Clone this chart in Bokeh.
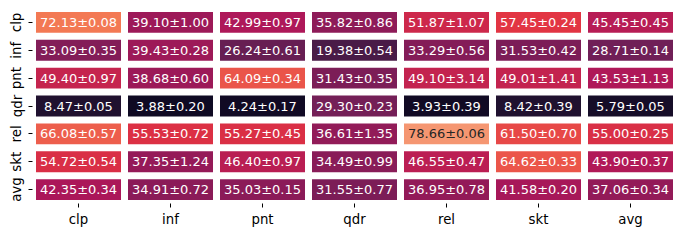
import numpy as np
from bokeh.plotting import figure
from bokeh.models import ColumnDataSource, LinearColorMapper, FixedTicker, Range1d
from bokeh.transform import transform
from bokeh.core.properties import value
from bokeh.embed import file_html
from bokeh.resources import INLINE

rows = ["clp", "inf", "pnt", "qdr", "rel", "skt", "avg"]
cols = ["clp", "inf", "pnt", "qdr", "rel", "skt", "avg"]

mean_clp = [72.13, 39.10, 42.99, 35.82, 51.87, 57.45, 45.45]
mean_inf = [33.09, 39.43, 26.24, 19.38, 33.29, 31.53, 28.71]
mean_pnt = [49.40, 38.68, 64.09, 31.43, 49.10, 49.01, 43.53]
mean_qdr = [8.47, 3.88, 4.24, 29.30, 3.93, 8.42, 5.79]
mean_rel = [66.08, 55.53, 55.27, 36.61, 78.66, 61.50, 55.00]
mean_skt = [54.72, 37.35, 46.40, 34.49, 46.55, 64.62, 43.90]
mean_avg = [42.35, 34.91, 35.03, 31.55, 36.95, 41.58, 37.06]

std_clp = [0.08, 1.00, 0.97, 0.86, 1.07, 0.24, 0.45]
std_inf = [0.35, 0.28, 0.61, 0.54, 0.56, 0.42, 0.14]
std_pnt = [0.97, 0.60, 0.34, 0.35, 3.14, 1.41, 1.13]
std_qdr = [0.05, 0.20, 0.17, 0.23, 0.39, 0.39, 0.05]
std_rel = [0.57, 0.72, 0.45, 1.35, 0.06, 0.70, 0.25]
std_skt = [0.54, 1.24, 0.97, 0.99, 0.47, 0.33, 0.37]
std_avg = [0.34, 0.72, 0.15, 0.77, 0.78, 0.20, 0.34]

means = [mean_clp, mean_inf, mean_pnt, mean_qdr, mean_rel, mean_skt, mean_avg]
stds = [std_clp, std_inf, std_pnt, std_qdr, std_rel, std_skt, std_avg]

# approximate "rocket" colormap
anchors = ["#03051a", "#35193e", "#701f57", "#ad1759", "#e13342",
           "#f37651", "#f6b48f", "#faebdd"]
def h2rgb(h):
    h = h.lstrip("#")
    return np.array([int(h[i:i + 2], 16) for i in (0, 2, 4)], dtype=float)
anc = np.array([h2rgb(a) for a in anchors])
apos = np.linspace(0, 1, len(anchors))
grid = np.linspace(0, 1, 256)
lut = np.stack([np.interp(grid, apos, anc[:, k]) for k in range(3)], axis=1)
palette = ["#%02x%02x%02x" % tuple(int(round(c)) for c in rgb) for rgb in lut]
VMIN, VMAX = 0.0, 100.0

def lum(rgb):
    c = rgb / 255.0
    c = np.where(c <= 0.03928, c / 12.92, ((c + 0.055) / 1.055) ** 2.4)
    return 0.2126 * c[0] + 0.7152 * c[1] + 0.0722 * c[2]

xs, ys, vals, labels, tcolors = [], [], [], [], []
for i, r in enumerate(rows):
    for j, c in enumerate(cols):
        v = means[i][j]
        xs.append(j)
        ys.append(i)
        vals.append(v)
        labels.append("%.2f\u00b1%.2f" % (v, stds[i][j]))
        idx = int(np.clip((v - VMIN) / (VMAX - VMIN) * 255, 0, 255))
        tcolors.append("#262626" if lum(lut[idx]) > 0.408 else "#ffffff")

src = ColumnDataSource(dict(x=xs, y=ys, v=vals, label=labels, tc=tcolors))
mapper = LinearColorMapper(palette=palette, low=VMIN, high=VMAX)

p = figure(width=684, height=234, output_backend="svg", toolbar_location=None,
           x_range=Range1d(-0.5, 6.5), y_range=Range1d(6.5, -0.5),
           min_border_left=32, min_border_right=8, min_border_top=8,
           min_border_bottom=31)
p.rect(x="x", y="y", width=1 - 7 / 92, height=1 - 7 / 27.9, source=src,
       fill_color=transform("v", mapper), line_color=None)
p.text(x="x", y="y", text="label", source=src, text_color="tc",
       text_align="center", text_baseline="middle",
       text_font=value("DejaVu Sans"), text_font_size="13px")

for ax in (p.xaxis[0], p.yaxis[0]):
    ax.axis_line_color = None
    ax.minor_tick_line_color = None
    ax.major_tick_out = 4
    ax.major_tick_in = 0
    ax.major_tick_line_color = "#000000"
    ax.major_label_text_font = "DejaVu Sans"
    ax.major_label_text_font_size = "13.3px"
    ax.major_label_text_color = "#000000"
    ax.major_label_standoff = 4
p.xaxis.ticker = FixedTicker(ticks=list(range(7)))
p.yaxis.ticker = FixedTicker(ticks=list(range(7)))
p.xaxis.major_label_overrides = {i: c for i, c in enumerate(cols)}
p.yaxis.major_label_overrides = {i: r for i, r in enumerate(rows)}
p.yaxis.major_label_orientation = "vertical"
p.xgrid.grid_line_color = None
p.ygrid.grid_line_color = None
p.outline_line_color = None
p.background_fill_color = "white"

open("out.html", "w").write(file_html(p, INLINE))
